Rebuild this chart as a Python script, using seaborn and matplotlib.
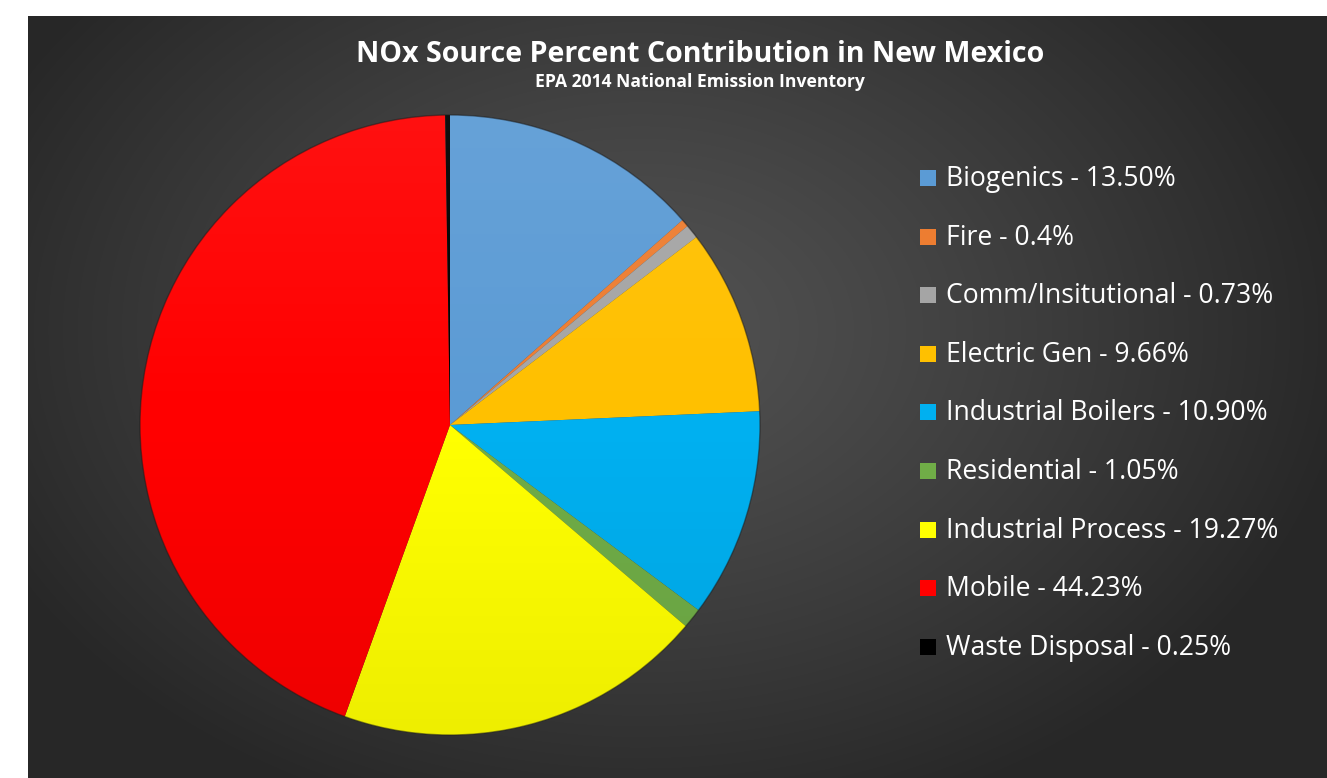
import numpy as np
import matplotlib
matplotlib.use("Agg")
import matplotlib.pyplot as plt
import seaborn as sns
from matplotlib.patches import Circle, Rectangle

sns.set_theme(style="white")
plt.rcParams['font.family'] = ['Open Sans', 'DejaVu Sans']

# ---- data ----
categories = ["Biogenics", "Fire", "Comm/Insitutional", "Electric Gen",
              "Industrial Boilers", "Residential", "Industrial Process",
              "Mobile", "Waste Disposal"]
percent_labels = ["13.50%", "0.4%", "0.73%", "9.66%", "10.90%", "1.05%",
                  "19.27%", "44.23%", "0.25%"]
values = [13.50, 0.4, 0.73, 9.66, 10.90, 1.05, 19.27, 44.23, 0.25]
colors = ["#5B9BD5", "#ED7D31", "#A5A5A5", "#FFC000", "#00B0F0",
          "#70AD47", "#FFFF00", "#FF0000", "#000000"]
title = "NOx Source Percent Contribution in New Mexico"
subtitle = "EPA 2014 National Emission Inventory"

W, H = 1327, 778
fig = plt.figure(figsize=(W / 100, H / 100), dpi=100)
fig.patch.set_facecolor("white")

# ---- background with radial gradient ----
bx0, by_top = 28, 16
bg = fig.add_axes([bx0 / W, 0, 1 - bx0 / W, (H - by_top) / H])
bw, bh = W - bx0, H - by_top
yy, xx = np.mgrid[0:bh, 0:bw]
cx, cy = 640 - bx0, 330 - by_top
r = np.sqrt(((xx - cx) / 720.0) ** 2 + ((yy - cy) / 520.0) ** 2)
r = np.clip(r, 0, 1)
c_in, c_out = 0x52 / 255, 0x27 / 255
g = c_in + (c_out - c_in) * r ** 1.2
img = np.dstack([g, g, g])
bg.imshow(img, aspect="auto", extent=(0, bw, bh, 0))
bg.set_axis_off()

# ---- pie ----
pcx, pcy, pr = 450, 425, 310
pax = fig.add_axes([(pcx - pr) / W, (H - pcy - pr) / H, 2 * pr / W, 2 * pr / H])
pax.set_facecolor("none")
wedges, _ = pax.pie(values, colors=colors, startangle=90, counterclock=False,
                    radius=1.0, wedgeprops=dict(linewidth=0, antialiased=True))
for w in wedges:
    w.set_clip_on(False)
# subtle shading: lighter top, darker bottom
t = np.linspace(0, 1, 256)
ov = np.zeros((256, 2, 4))
ov[:, :, 0:3] = np.where(t[:, None, None] < 0.5, 1.0, 0.0)
ov[:, :, 3] = (np.abs(t - 0.5) * 0.14)[:, None]
im = pax.imshow(ov, extent=(-1, 1, -1, 1), origin="upper", aspect="auto", zorder=5)
clip = Circle((0, 0), 1.0, transform=pax.transData)
im.set_clip_path(clip)
edge = Circle((0, 0), 1.0, fill=False, edgecolor="#1a1a1a",
              linewidth=1.0, alpha=0.5, zorder=6)
edge.set_clip_on(False)
pax.add_patch(edge)
pax.set_xlim(-1.0, 1.0)
pax.set_ylim(-1.0, 1.0)
pax.set_aspect("equal")
pax.set_axis_off()

# ---- helpers to fit text width ----
fig.canvas.draw()
renderer = fig.canvas.get_renderer()

def fit_text(x, y, s, target_w, **kw):
    t = fig.text(x / W, 1 - y / H, s, **kw)
    fs = t.get_fontsize()
    for _ in range(3):
        wpx = t.get_window_extent(renderer=renderer).width
        fs = fs * target_w / wpx
        t.set_fontsize(fs)
    return t

fit_text(700, 55, title, 690, color="white", fontweight="bold",
         ha="center", va="center", fontsize=20)
fit_text(700, 82, subtitle, 330, color="white", fontweight="bold",
         ha="center", va="center", fontsize=8)

# ---- legend ----
row0, step = 178, 58.6
sq = 16
labels = [f"{c} - {p}" for c, p in zip(categories, percent_labels)]
ref = fig.text(946 / W, 0.5, labels[6], fontsize=19, color="white")
fs = 19
for _ in range(3):
    wpx = ref.get_window_extent(renderer=renderer).width
    fs = fs * 333 / wpx
    ref.set_fontsize(fs)
ref.remove()
for i, (lab, col) in enumerate(zip(labels, colors)):
    yc = row0 + i * step
    fig.patches.append(Rectangle((920 / W, 1 - (yc + sq / 2) / H), sq / W, sq / H,
                                 transform=fig.transFigure, facecolor=col,
                                 edgecolor="none", figure=fig))
    fig.text(946 / W, 1 - (yc + 1) / H, lab, fontsize=fs, color="white",
             ha="left", va="center")

fig.savefig("out.png", dpi=100, facecolor=fig.get_facecolor())
